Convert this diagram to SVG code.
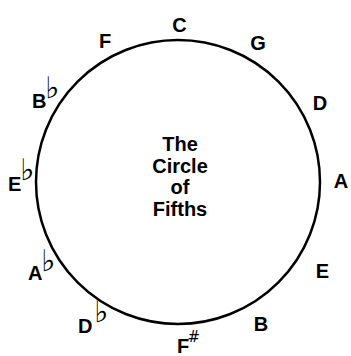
<svg xmlns="http://www.w3.org/2000/svg" width="351" height="356" viewBox="0 0 351 356">
<style>
.k{font-family:"Liberation Sans",Arial,sans-serif;font-weight:bold;font-size:20px;fill:#000;text-anchor:middle}
.s{text-anchor:start}
.acc{font-family:"DejaVu Sans",sans-serif;font-weight:normal;font-size:30px;fill:#000}
.sh{font-family:"DejaVu Sans",sans-serif;font-weight:normal;font-size:15px;fill:#000}
.t{font-family:"Liberation Sans",Arial,sans-serif;font-weight:bold;font-size:20px;fill:#000;text-anchor:middle}
</style>
<rect width="351" height="356" fill="#fff"/>
<g id="connectors">
<circle cx="178" cy="182" r="142" fill="none" stroke="#000" stroke-width="2.5"/>
</g>
<g id="title">
<text class="t" x="180" y="151">The</text>
<text class="t" x="180" y="173">Circle</text>
<text class="t" x="180" y="194">of</text>
<text class="t" x="180" y="216">Fifths</text>
</g>
<g id="C"><text class="k" x="179.5" y="32">C</text></g>
<g id="G"><text class="k" x="258" y="50">G</text></g>
<g id="D"><text class="k" x="320" y="110">D</text></g>
<g id="A"><text class="k" x="341" y="188">A</text></g>
<g id="E"><text class="k" x="322.5" y="278">E</text></g>
<g id="B"><text class="k" x="261" y="331">B</text></g>
<g id="Fs"><text class="k s" x="177" y="353">F</text><text class="sh" x="187.5" y="341.5">#</text></g>
<g id="Db"><text class="k s" x="78" y="333">D</text><text class="acc" x="94" y="322" transform="rotate(0.01)">♭&#xFE0E;</text></g>
<g id="Ab"><text class="k s" x="28" y="280">A</text><text class="acc" x="41" y="271" transform="rotate(0.01)">♭&#xFE0E;</text></g>
<g id="Eb"><text class="k s" x="8" y="191">E</text><text class="acc" x="20" y="180" transform="rotate(0.01)">♭&#xFE0E;</text></g>
<g id="Bb"><text class="k s" x="32" y="108">B</text><text class="acc" x="45" y="98" transform="rotate(0.01)">♭&#xFE0E;</text></g>
<g id="F"><text class="k" x="105" y="48">F</text></g>
</svg>
